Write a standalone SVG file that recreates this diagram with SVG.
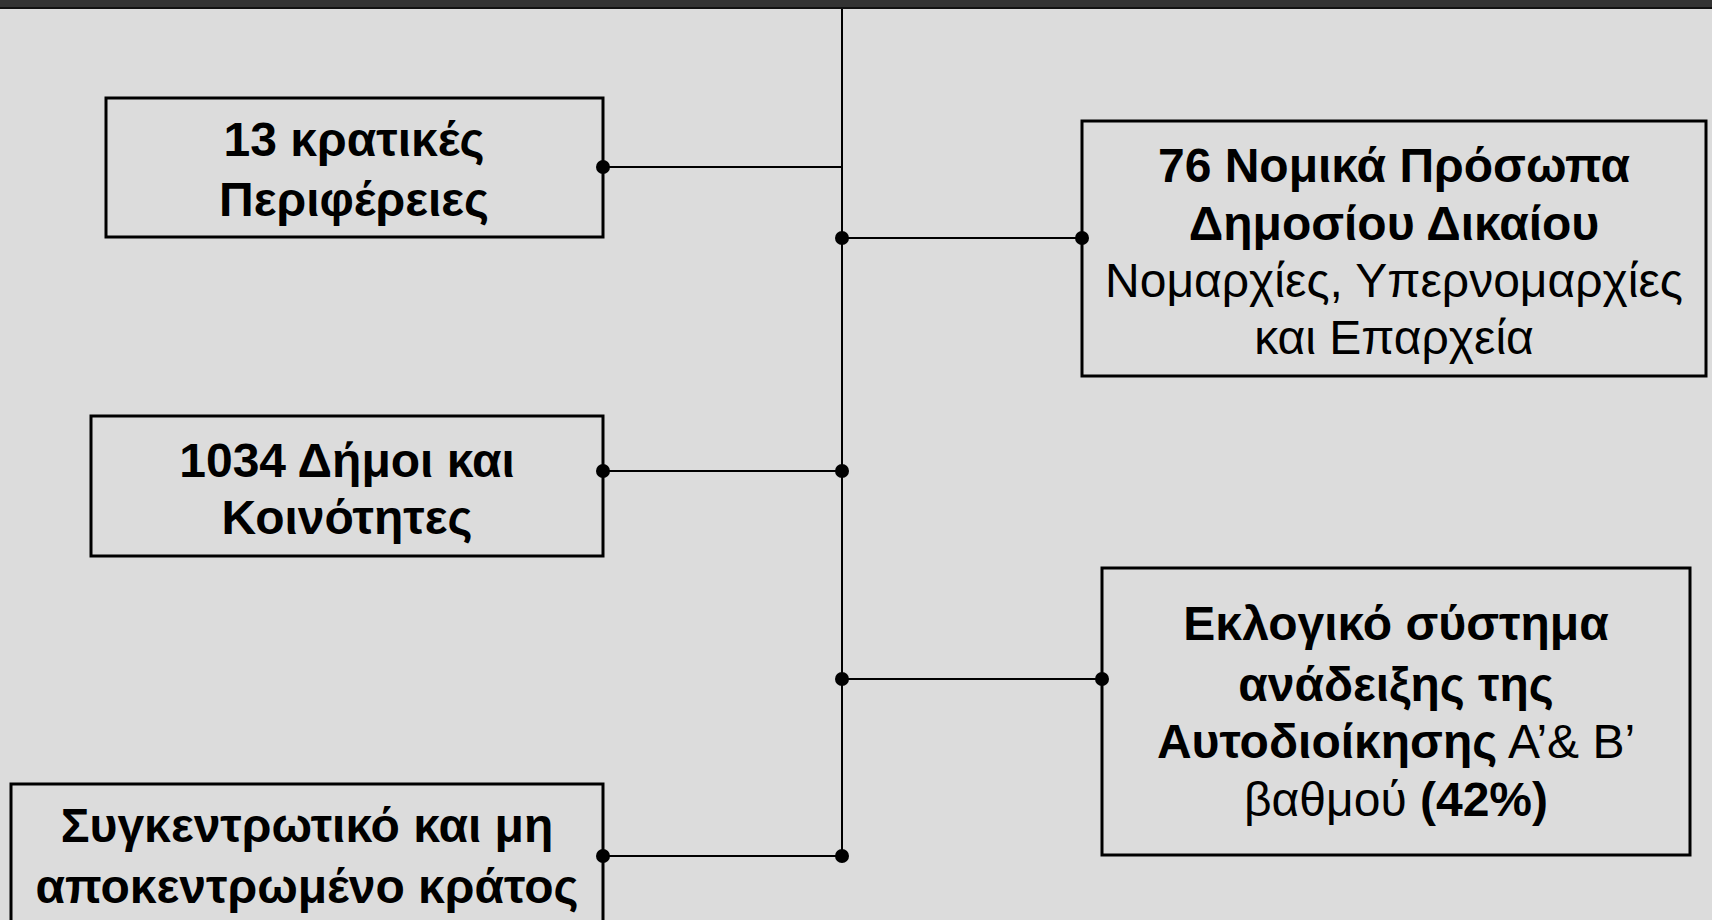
<svg xmlns="http://www.w3.org/2000/svg" width="1712" height="920" viewBox="0 0 1712 920">
<style>
.box{fill:#dcdcdc;stroke:#000;stroke-width:3}
.t{font-family:"Liberation Sans",Arial,sans-serif;font-size:48px;fill:#000;text-anchor:middle}
.b{font-weight:bold}
.c{stroke:#000;stroke-width:2;fill:none}
.d{fill:#000}
</style>
<rect x="0" y="0" width="1712" height="920" fill="#dcdcdc"/>
<rect x="0" y="0" width="1712" height="7" fill="#333"/>
<rect x="0" y="7" width="1712" height="2" fill="#111"/>
<g id="node-perifereies">
<rect class="box" x="106" y="98" width="497" height="139"/>
<text class="t b" x="354" y="156">13 κρατικές</text>
<text class="t b" x="354" y="216">Περιφέρειες</text>
</g>
<g id="node-npdd">
<rect class="box" x="1082" y="121" width="624" height="255"/>
<text class="t b" x="1394" y="182">76 Νομικά Πρόσωπα</text>
<text class="t b" x="1394" y="240">Δημοσίου Δικαίου</text>
<text class="t" x="1394" y="297">Νομαρχίες, Υπερνομαρχίες</text>
<text class="t" x="1394" y="354">και Επαρχεία</text>
</g>
<g id="node-dimoi">
<rect class="box" x="91" y="416" width="512" height="140"/>
<text class="t b" x="347" y="477">1034 Δήμοι και</text>
<text class="t b" x="347" y="534">Κοινότητες</text>
</g>
<g id="node-eklogiko">
<rect class="box" x="1102" y="568" width="588" height="287"/>
<text class="t b" x="1396" y="640">Εκλογικό σύστημα</text>
<text class="t b" x="1396" y="701">ανάδειξης της</text>
<text class="t" x="1396" y="758"><tspan class="b">Αυτοδιοίκησης</tspan> Α’&amp; Β’</text>
<text class="t" x="1396" y="816">βαθμού <tspan class="b">(42%)</tspan></text>
</g>
<g id="node-kratos">
<rect class="box" x="11" y="784" width="592" height="160"/>
<text class="t b" x="307" y="842">Συγκεντρωτικό και μη</text>
<text class="t b" x="307" y="903">αποκεντρωμένο κράτος</text>
</g>
<g id="connectors">
<line class="c" x1="842" y1="9" x2="842" y2="856"/>
<line class="c" x1="603" y1="167" x2="842" y2="167"/>
<circle class="d" cx="603" cy="167" r="7"/>
<line class="c" x1="842" y1="238" x2="1082" y2="238"/>
<circle class="d" cx="842" cy="238" r="7"/>
<circle class="d" cx="1082" cy="238" r="7"/>
<line class="c" x1="603" y1="471" x2="842" y2="471"/>
<circle class="d" cx="603" cy="471" r="7"/>
<circle class="d" cx="842" cy="471" r="7"/>
<line class="c" x1="842" y1="679" x2="1102" y2="679"/>
<circle class="d" cx="842" cy="679" r="7"/>
<circle class="d" cx="1102" cy="679" r="7"/>
<line class="c" x1="603" y1="856" x2="842" y2="856"/>
<circle class="d" cx="603" cy="856" r="7"/>
<circle class="d" cx="842" cy="856" r="7"/>
</g>
</svg>
